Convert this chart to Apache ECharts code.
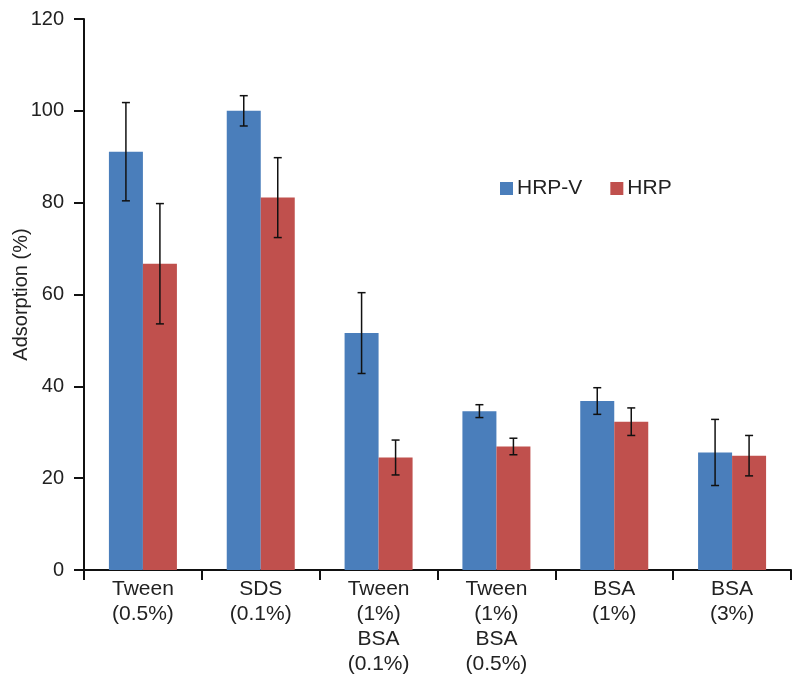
<!DOCTYPE html>
<html>
<head>
<meta charset="utf-8">
<script src="https://cdn.jsdelivr.net/npm/echarts@6/dist/echarts.min.js"></script>
<style>
html,body{margin:0;padding:0;background:#fff;}
#chart{width:800px;height:685px;}
</style>
</head>
<body>
<div id="chart"></div>
<script>
var categories = ['Tween\n(0.5%)', 'SDS\n(0.1%)', 'Tween\n(1%)\nBSA\n(0.1%)', 'Tween\n(1%)\nBSA\n(0.5%)', 'BSA\n(1%)', 'BSA\n(3%)'];
var hrpV = [91.1, 100.0, 51.6, 34.6, 36.8, 25.6];
var hrpVErr = [10.7, 3.3, 8.8, 1.4, 2.9, 7.2];
var hrp = [66.7, 81.1, 24.5, 26.9, 32.3, 24.9];
var hrpErr = [13.1, 8.7, 3.8, 1.8, 3.0, 4.4];
var yTicks = [0, 20, 40, 60, 80, 100, 120];

var BAR_W = 34;
var FONT = '"Liberation Sans", Arial, sans-serif';

function errData(vals, errs) {
  return vals.map(function (v, i) { return [i, v - errs[i], v + errs[i]]; });
}

function errRender(offsetSign) {
  return function (params, api) {
    var idx = api.value(0);
    var lo = api.coord([idx, api.value(1)]);
    var hi = api.coord([idx, api.value(2)]);
    var x = lo[0] + offsetSign * BAR_W / 2;
    var cap = 4;
    var style = { stroke: '#111', lineWidth: 1.5 };
    return {
      type: 'group',
      children: [
        { type: 'line', shape: { x1: x, y1: hi[1], x2: x, y2: lo[1] }, style: style },
        { type: 'line', shape: { x1: x - cap, y1: hi[1], x2: x + cap, y2: hi[1] }, style: style },
        { type: 'line', shape: { x1: x - cap, y1: lo[1], x2: x + cap, y2: lo[1] }, style: style }
      ]
    };
  };
}

var chart = echarts.init(document.getElementById('chart'));
chart.setOption({
  animation: false,
  backgroundColor: '#fff',
  textStyle: { fontFamily: FONT },
  grid: { left: 84, right: 9, top: 19, bottom: 115, containLabel: false, outerBoundsMode: 'none' },
  legend: {
    data: ['HRP-V', 'HRP'],
    left: 495, top: 173,
    icon: 'rect',
    itemWidth: 13, itemHeight: 13, itemGap: 28,
    textStyle: { fontSize: 21, color: '#222', fontFamily: FONT, padding: [0, 0, 0, -1] }
  },
  xAxis: {
    type: 'category',
    data: categories,
    axisLine: { lineStyle: { color: '#111', width: 2 } },
    axisTick: { show: true, length: 10, lineStyle: { color: '#111', width: 2 } },
    axisLabel: { fontSize: 21, color: '#222', lineHeight: 25, margin: 7, interval: 0, fontFamily: FONT }
  },
  yAxis: {
    type: 'value',
    min: yTicks[0], max: yTicks[yTicks.length - 1], interval: yTicks[1] - yTicks[0],
    name: 'Adsorption (%)',
    nameLocation: 'middle',
    nameGap: 53,
    nameMoveOverlap: false,
    nameTextStyle: { fontSize: 20, color: '#222', fontFamily: FONT },
    axisLine: { show: true, lineStyle: { color: '#111', width: 2 } },
    axisTick: { show: true, length: 10, lineStyle: { color: '#111', width: 2 } },
    axisLabel: { fontSize: 20, color: '#222', margin: 20, fontFamily: FONT },
    splitLine: { show: false }
  },
  series: [
    { name: 'HRP-V', type: 'bar', data: hrpV, barWidth: BAR_W, barGap: '0%', itemStyle: { color: '#4a7ebb' } },
    { name: 'HRP', type: 'bar', data: hrp, barWidth: BAR_W, barGap: '0%', itemStyle: { color: '#c0504d' } },
    { name: 'errV', type: 'custom', data: errData(hrpV, hrpVErr), renderItem: errRender(-1), z: 10,
      encode: { x: 0, y: [1, 2] } },
    { name: 'errR', type: 'custom', data: errData(hrp, hrpErr), renderItem: errRender(1), z: 10,
      encode: { x: 0, y: [1, 2] } }
  ]
});
</script>
</body>
</html>
